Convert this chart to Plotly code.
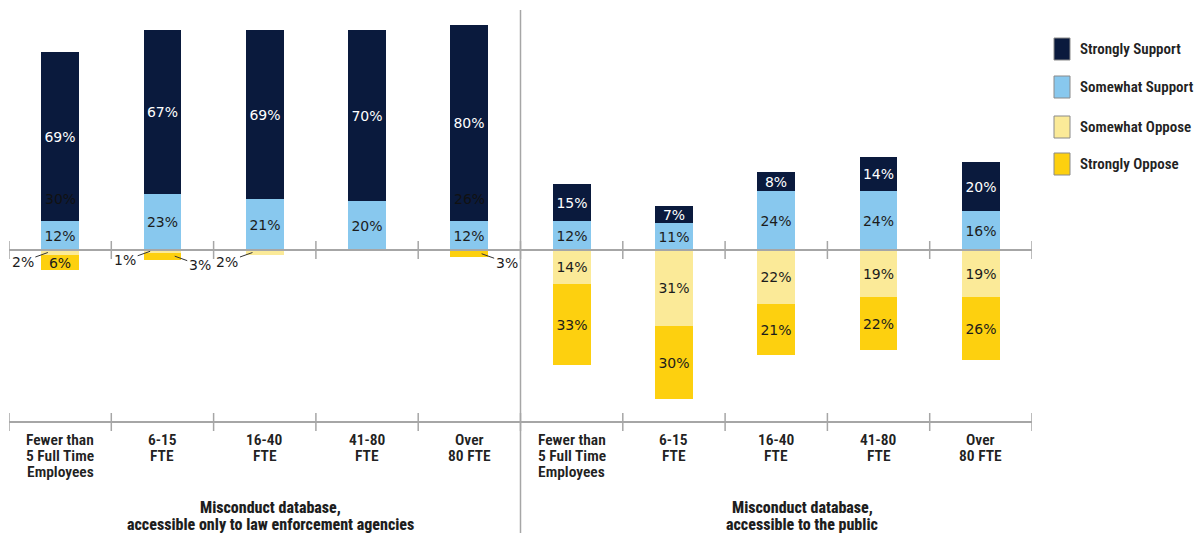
import plotly.graph_objects as go

# Agency size categories, repeated for each of the two database options
sizes = ["Fewer than<br>5 Full Time<br>Employees", "6-15<br>FTE", "16-40<br>FTE",
         "41-80<br>FTE", "Over<br>80 FTE"]
group_titles = ["Misconduct database,<br>accessible only to law enforcement agencies",
                "Misconduct database,<br>accessible to the public"]

# Percent of respondents, left 5 = law-enforcement-only database, right 5 = public database
strongly_support = [69, 67, 69, 70, 80, 15, 7, 8, 14, 20]
somewhat_support = [12, 23, 21, 20, 12, 12, 11, 24, 24, 16]
somewhat_oppose = [2, 1, 2, 0, 0, 14, 31, 22, 19, 19]
strongly_oppose = [6, 3, 0, 0, 3, 33, 30, 21, 22, 26]
# additional labels printed on the strongly-support bars
extra_labels = ["30%", "", "", "", "26%", "", "", "", "", ""]

series_names = ["Strongly Support", "Somewhat Support", "Somewhat Oppose", "Strongly Oppose"]
colors = {"Strongly Support": "#0a1a3d", "Somewhat Support": "#88c8ee",
          "Somewhat Oppose": "#fbea98", "Strongly Oppose": "#fdd00f"}

W, H = 1203, 533
LABEL_FONT = "Verdana, DejaVu Sans, sans-serif"
COND_FONT = "Roboto Condensed, Liberation Sans Narrow, DejaVu Sans Condensed, sans-serif"
LBL = 14

categories = sizes + sizes
xs = list(range(len(categories)))


def px_x(p):
    return p / W


def px_y(p):
    return 1 - p / H


def bar(name, values, sign, text_color):
    return go.Bar(
        x=xs, y=[sign * v for v in values], name=name,
        marker=dict(color=colors[name], line=dict(width=0)),
        width=0.37,
        text=[f"{v}%" if v >= 5 else "" for v in values],
        textposition="inside", insidetextanchor="middle", textangle=0,
        constraintext="none",
        textfont=dict(family=LABEL_FONT, size=LBL, color=text_color),
        hoverinfo="skip", showlegend=False,
    )


fig = go.Figure()
# stacking order: the segment nearest the zero line is added first
fig.add_trace(bar("Somewhat Support", somewhat_support, 1, "#1c1c1c"))
fig.add_trace(bar("Strongly Support", strongly_support, 1, "#ffffff"))
fig.add_trace(bar("Somewhat Oppose", somewhat_oppose, -1, "#1c1c1c"))
fig.add_trace(bar("Strongly Oppose", strongly_oppose, -1, "#1c1c1c"))

annotations = []
shapes = []
small_font = dict(family=LABEL_FONT, size=LBL, color="#1c1c1c")

# small segments get a label outside the bar with a leader line
for i in xs:
    v = somewhat_oppose[i]
    if 0 < v < 5:
        annotations.append(dict(x=i - 0.12, y=-v / 2, xref="x", yref="y", text=f"{v}%",
                                showarrow=True, arrowhead=0, arrowwidth=1, arrowcolor="#333",
                                ax=-25, ay=9, standoff=0, font=small_font))
    v = strongly_oppose[i]
    if 0 < v < 5:
        annotations.append(dict(x=i + 0.12, y=-(somewhat_oppose[i] + v / 2), xref="x", yref="y",
                                text=f"{v}%", showarrow=True, arrowhead=0, arrowwidth=1,
                                arrowcolor="#333", ax=25, ay=9, standoff=0, font=small_font))
    if extra_labels[i]:
        annotations.append(dict(x=i, y=somewhat_support[i] + 9, xref="x", yref="y",
                                text=extra_labels[i], showarrow=False,
                                font=dict(family=LABEL_FONT, size=LBL, color="#111111")))

cond = dict(family=COND_FONT, size=15.5, color="#222222", weight=600)

# category labels under the lower axis, one annotation per line for tight spacing
for i, c in enumerate(categories):
    for j, line in enumerate(c.split("<br>")):
        annotations.append(dict(x=i, y=px_y(440 + 16 * j), xref="x", yref="paper", text=line,
                                showarrow=False, xanchor="center", yanchor="middle", font=cond))

# group titles
for cx, title in zip((270, 802), group_titles):
    for j, line in enumerate(title.split("<br>")):
        annotations.append(dict(x=px_x(cx), y=px_y(507.5 + 16.5 * j), xref="paper", yref="paper",
                                text=line, showarrow=False, xanchor="center", yanchor="middle",
                                font=dict(family=COND_FONT, size=16, color="#1e1e1e",
                                          weight=800)))

# axis lines: zero line and lower category axis, both with boundary ticks
AX = "#a6a6a6"
for y0 in (250, 422):
    shapes.append(dict(type="line", xref="paper", yref="paper", x0=px_x(9), x1=px_x(1032),
                       y0=px_y(y0), y1=px_y(y0), line=dict(color=AX, width=2)))
    for k in range(len(categories) + 1):
        shapes.append(dict(type="line", xref="x", yref="paper", x0=k - 0.5, x1=k - 0.5,
                           y0=px_y(y0 - 9), y1=px_y(y0 + 9), line=dict(color=AX, width=1.5)))

# vertical separator between the two groups
shapes.append(dict(type="line", xref="x", yref="paper", x0=4.5, x1=4.5,
                   y0=px_y(10), y1=0, line=dict(color=AX, width=1.5)))

# legend
legend_y = [49, 87, 127, 164]
for name, yc in zip(series_names, legend_y):
    shapes.append(dict(type="rect", xref="paper", yref="paper",
                       x0=px_x(1054), x1=px_x(1070), y0=px_y(yc - 11), y1=px_y(yc + 11),
                       fillcolor=colors[name], line=dict(color="#8a8a8a", width=1)))
    annotations.append(dict(x=px_x(1078), y=px_y(yc), xref="paper", yref="paper",
                            text=name, showarrow=False, xanchor="left", yanchor="middle",
                            font=dict(family=COND_FONT, size=15, color="#222222", weight=600)))

fig.update_layout(
    width=W, height=H,
    margin=dict(l=0, r=0, t=0, b=0),
    paper_bgcolor="white", plot_bgcolor="white",
    barmode="relative", bargap=0,
    uniformtext=dict(minsize=LBL, mode="show"),
    xaxis=dict(domain=[px_x(9), px_x(1032)], range=[-0.5, 9.5], visible=False),
    yaxis=dict(domain=[px_y(422), px_y(10)], range=[-70.2, 98], visible=False),
    annotations=annotations, shapes=shapes,
)

fig.write_html("out.html")
